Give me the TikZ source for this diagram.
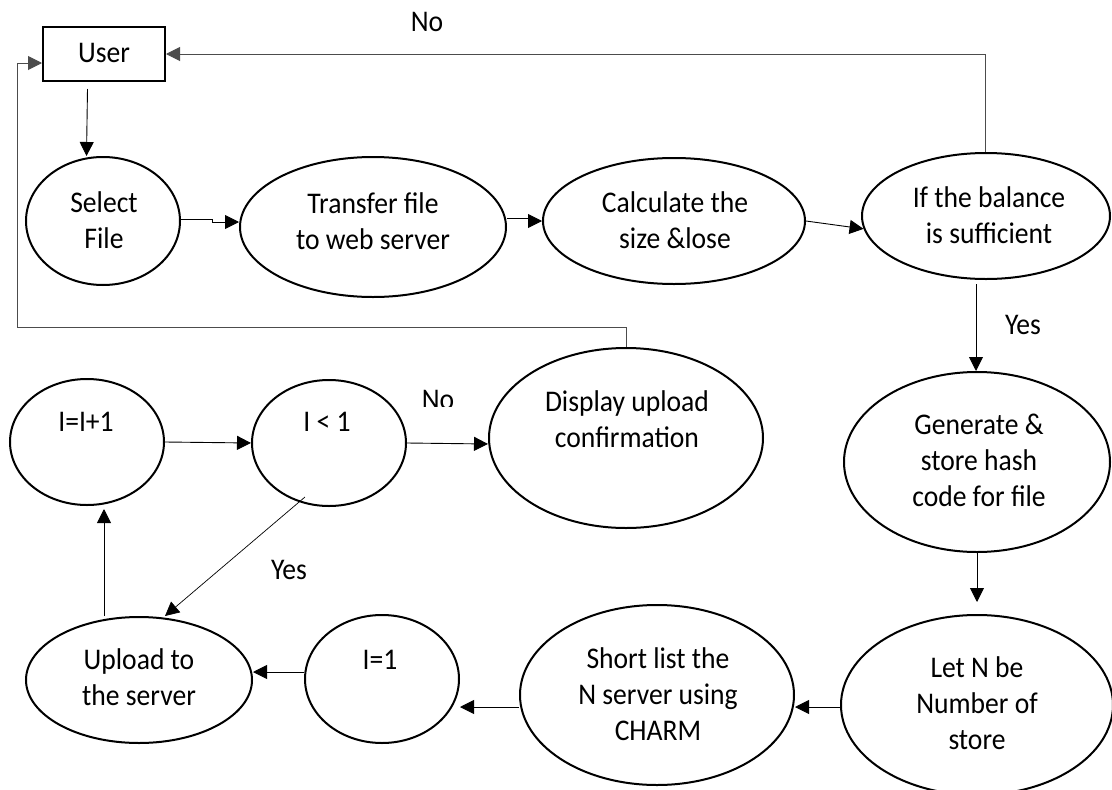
\documentclass[tikz,border=0pt]{standalone}
\usepackage{fontspec}
\setmainfont{Carlito}[FakeStretch=0.92]
\usetikzlibrary{arrows.meta,shapes.geometric}
\tikzset{
  ell/.style={ellipse, draw, line width=2pt, inner sep=0pt, minimum width=#1},
  txt/.style={align=center, inner sep=0pt, font=\fontsize{30pt}{36pt}\selectfont},
  arr/.style={-{Triangle[length=14pt,width=14pt]}, line width=0.9pt},
  fb/.style={draw=black!70, line width=1pt},
  fbarr/.style={fb, -{Triangle[length=14pt,width=14pt]}}
}
\begin{document}
\begin{tikzpicture}[x=1pt,y=-1pt]
\useasboundingbox (0,0) rectangle (1112,790);
% nodes
\node[draw, line width=2pt, minimum width=122pt, minimum height=54pt, inner sep=0pt] (user) at (104,54) {};
\node[txt] (userT) at (104,53) {User};
\node[ell=154pt, minimum height=128pt] (sel) at (103,221) {};
\node[ell=266pt, minimum height=140pt] (tr) at (373,227) {};
\node[ell=262pt, minimum height=126pt] (calc) at (674,221) {};
\node[ell=248pt, minimum height=126pt] (bal) at (986,216) {};
\node[ell=266pt, minimum height=180pt] (gen) at (977,462) {};
\node[ell=272pt, minimum height=180pt] (letn) at (977,705) {};
\node[ell=274pt, minimum height=180pt] (short) at (657,695) {};
\node[ell=154pt, minimum height=128pt] (ione) at (382,679) {};
\node[ell=226pt, minimum height=126pt] (up) at (139,680) {};
\node[ell=154pt, minimum height=126pt] (iinc) at (87,442) {};
\node[ell=154pt, minimum height=126pt] (ilt) at (329,443) {};
\node[ell=274pt, minimum height=180pt] (disp) at (626,438) {};
% texts
\node[txt] (selT) at (104,220) {Select\\File};
\node[txt] (trT) at (373,221) {Transfer file\\to web server};
\node[txt] (calcT) at (675,220) {Calculate the\\size \&lose};
\node[txt] (balT) at (989,215) {If the balance\\is sufficient};
\node[txt] (genT) at (979,460) {Generate \&\\store hash\\code for file};
\node[txt] (letnT) at (977,703) {Let N be\\Number of\\store};
\node[txt] (shortT) at (658,694) {Short list the\\N server using\\CHARM};
\node[txt] (ioneT) at (380,660) {I=1};
\node[txt] (upT) at (139,677) {Upload to\\the server};
\node[txt] (iincT) at (86,422) {I=I+1};
\node[txt] (iltT) at (327,422) {I < 1};
\node[txt] (dispT) at (627,419) {Display upload\\confirmation};
% labels
\node[txt] (no1) at (427,22) {No};
\node[txt] (yes1) at (1023,325) {Yes};
\begin{scope}
  \clip (400,370) rectangle (470,406);
  \node[txt] (no2) at (438,400) {No};
\end{scope}
\node[txt] (yes2) at (289,570) {Yes};
% connectors
\draw[arr] ([shift={(-16.5,7)}]user.south) -- ([xshift=-16.5pt]sel.north);
\draw[arr] ([yshift=2pt]sel.east) -- ++(31,0) -- ++(0,3) -- ([yshift=5pt]tr.west);
\draw[arr] ([yshift=9pt]tr.east) -- ++(21,0) -- ++(0,3) -- (calc.west);
\draw[arr] (calc.east) -- (bal.186);
\draw[arr] ([shift={(-10,4)}]bal.south) -- ([xshift=-1pt]gen.north);
\draw[arr] (gen.south) -- ([yshift=12pt]letn.north);
\draw[arr] ([yshift=-2pt]letn.west) -- ([yshift=-12pt]short.east);
\draw[arr] ([yshift=-12pt]short.west) coordinate (s1) -- (s1 -| ione.east);
\draw[arr] ([yshift=7pt]ione.west) -- ([yshift=8pt]up.east);
\draw[arr] ([xshift=-35pt]up.north) -- ([xshift=17pt,yshift=-3pt]iinc.south);
\draw[arr] (iinc.east) -- (ilt.west);
\draw[arr] (ilt.east) -- ([yshift=-6pt]disp.west);
\draw[arr, line width=0.7pt] ([shift={(-24,54)}]ilt.center) -- ([xshift=26pt]up.north);
\draw[fbarr] ([xshift=-1pt]bal.north) |- (user.east);
\coordinate (fbl) at (17,327);
\draw[fbarr] (disp.north) |- (fbl) |- ([yshift=-9pt]user.west);
\end{tikzpicture}
\end{document}
